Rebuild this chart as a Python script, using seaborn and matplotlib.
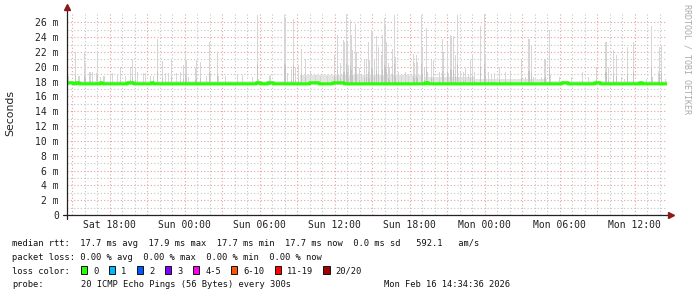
import numpy as np
import pandas as pd
import matplotlib
matplotlib.use("Agg")
import matplotlib.pyplot as plt
from matplotlib.patches import Rectangle
import seaborn as sns

# ---------------- data ----------------
STEP_HOURS = 5 / 60.0          # 300 s probe step
N_STEPS = 576                  # 48 h window
MEDIAN_BASE = 17.7             # ms
# (first step, last step, median ms) where the median sits slightly higher
median_bumps = [(0, 5, 17.84), (9, 11, 17.84), (32, 33, 17.84), (58, 63, 17.84),
                (81, 82, 17.84), (182, 185, 17.84), (193, 197, 17.84),
                (233, 241, 17.84), (255, 265, 17.84), (344, 346, 17.84),
                (475, 480, 17.84), (507, 511, 17.84), (550, 551, 17.84)]

# low, continuous smoke: (first step, last step, max ms)
smoke_bands = [(0, 575, 18.1), (224, 340, 18.9), (344, 390, 18.6), (391, 460, 18.35)]

# smoke spikes: step index and max RTT (ms) of that step
spike_steps = [1, 8, 11, 16, 17, 21, 22, 24, 28, 29, 32, 35, 41, 43, 48, 51, 56, 60, 62,
               65, 67, 73, 75, 80, 83, 86, 91, 94, 97, 100, 105, 108, 111, 113,
               114, 116, 123, 124, 128, 133, 136, 137, 144, 145, 152, 163, 168, 178,
               182, 183, 194, 195, 208, 209, 211, 215, 217, 219, 222, 225, 228,
               233, 238, 243, 250, 256, 257, 259, 260, 262, 265, 266, 268, 269, 270,
               272, 273, 274, 276, 277, 280, 282, 285, 287, 289, 290, 292, 293, 295,
               297, 299, 301, 302, 304, 305, 306, 308, 309, 312, 314, 315, 318, 321,
               324, 327, 332, 333, 335, 336, 340, 341, 343,
               345, 346, 349, 351, 357, 360, 361, 365, 366, 368, 369, 371, 372, 374,
               375, 377, 380, 382, 385, 387, 389, 391, 396, 400, 401, 404, 407, 410,
               415, 420, 425, 436, 440, 443, 445, 447, 455, 458,
               459, 463, 464, 472, 484, 494, 500, 508, 516, 517, 519, 524, 527, 532,
               535, 538, 543, 556, 561, 562, 567, 568, 570, 574]
spike_tops = [18.7, 22.0, 18.7, 22.0, 20.5, 19.3, 19.3, 19.3, 19.1, 22.0, 18.6, 18.7, 18.7,
              19.1, 18.9, 20.0, 18.7, 20.0, 21.1, 20.0, 19.3, 19.1, 19.1, 18.7, 18.7,
              23.8, 20.8, 19.1, 19.1, 21.1, 19.1, 19.3, 20.3, 22.0,
              20.9, 18.6, 19.8, 20.9, 20.7, 18.7, 23.4, 19.1, 22.0, 18.7, 18.7, 18.9,
              18.9, 18.6, 27.0, 18.4, 18.7, 18.9, 27.0, 26.5, 19.1, 19.7, 26.5, 19.8,
              20.3, 22.4, 21.1,
              19.3, 18.9, 18.7, 18.7, 21.6, 18.6, 24.3, 18.7, 20.5, 23.6, 23.4, 27.1,
              23.3, 20.3, 26.3, 24.3, 22.2, 25.8, 22.0, 19.8, 18.9, 20.9, 21.1, 23.4,
              20.9, 25.0, 24.8, 21.1, 24.1, 22.7, 21.6, 24.3, 26.6, 25.5, 23.3, 20.5,
              20.0, 22.4, 27.0, 21.3, 19.3, 18.7, 19.3, 18.7, 21.7, 20.5, 21.6, 20.7,
              27.0, 22.7, 19.8,
              25.2, 19.3, 20.9, 20.9, 19.3, 23.8, 22.0, 23.3, 19.1, 24.3, 24.1, 24.1,
              21.6, 27.0, 18.6, 19.3, 19.3, 19.8, 18.9, 20.9, 21.6, 19.3, 25.5, 27.1,
              21.7, 19.3, 18.9, 19.1, 20.0, 19.3, 19.3, 20.9, 18.6, 23.8, 23.0, 18.6,
              18.6, 20.9,
              21.1, 25.0, 18.9, 18.6, 18.6, 19.3, 18.6, 20.0, 23.4, 23.3, 20.0, 22.2,
              21.6, 18.6, 18.4, 22.7, 23.3, 18.4, 25.5, 18.6, 19.5, 22.7, 22.9, 18.4]

y_ticks = [0, 2, 4, 6, 8, 10, 12, 14, 16, 18, 20, 22, 24, 26]
y_tick_labels = ["0", "2 m", "4 m", "6 m", "8 m", "10 m", "12 m", "14 m", "16 m",
                 "18 m", "20 m", "22 m", "24 m", "26 m"]
x_tick_labels = ["Sat 18:00", "Sun 00:00", "Sun 06:00", "Sun 12:00",
                 "Sun 18:00", "Mon 00:00", "Mon 06:00", "Mon 12:00"]

legend_line1 = "median rtt:  17.7 ms avg  17.9 ms max  17.7 ms min  17.7 ms now  0.0 ms sd   592.1   am/s"
legend_line2 = "packet loss: 0.00 % avg  0.00 % max  0.00 % min  0.00 % now"
loss_labels = ["0", "1", "2", "3", "4-5", "6-10", "11-19", "20/20"]
loss_colors = ["#26ff00", "#00b8ff", "#0059ff", "#7e00ff", "#ff00ea", "#ff5500",
               "#ff0000", "#a10000"]
probe_text = "20 ICMP Echo Pings (56 Bytes) every 300s"
stamp_text = "Mon Feb 16 14:34:36 2026"

# ---------------- build frames ----------------
end = pd.Timestamp("2026-02-16 14:34:36")
start = end - pd.Timedelta(hours=48)
hours = np.arange(N_STEPS + 1) * STEP_HOURS
median = np.full(N_STEPS + 1, MEDIAN_BASE)
for a, b, v in median_bumps:
    median[a:b + 1] = v
med_df = pd.DataFrame({"hours": hours, "median": median})
smoke_df = pd.DataFrame({"hours": np.array(spike_steps) * STEP_HOURS,
                         "top": spike_tops})
band_df = pd.DataFrame(smoke_bands, columns=["s0", "s1", "top"])

first_tick = (pd.Timestamp("2026-02-14 15:00:00") - start).total_seconds() / 3600
major_x = [first_tick + 3 * k for k in range(16)]
minor_x = [first_tick + k for k in range(48) if (k % 3) != 0]
x_labels_full = []
li = 0
for k in range(16):
    if k % 2 == 1:
        x_labels_full.append(x_tick_labels[li]); li += 1
    else:
        x_labels_full.append("")

# ---------------- figure ----------------
sns.set_style("white")
plt.rcParams["font.family"] = ["DejaVu Sans Mono"]
W, H = 697, 297
fig = plt.figure(figsize=(W / 100, H / 100), dpi=100)
fig.patch.set_facecolor("white")
ax = fig.add_axes([67 / W, (H - 215) / H, 600 / W, 202 / H])
ax.set_xlim(0, 48)
ax.set_ylim(0, 27.26)
for s in ax.spines.values():
    s.set_visible(False)

# grid
ax.set_yticks(y_ticks)
ax.set_yticks(np.arange(1, 27, 2), minor=True)
ax.set_xticks(major_x)
ax.set_xticks(minor_x, minor=True)
dot = (0, (1, 2))
ax.grid(which="major", color="#eaa0a0", linestyle=dot, linewidth=0.8)
ax.grid(which="minor", color="#c4c4c4", linestyle=dot, linewidth=0.8)
ax.set_axisbelow(True)

# smoke
base = 17.55
ax.bar(band_df["s0"] * STEP_HOURS, band_df["top"] - base, bottom=base,
       width=(band_df["s1"] - band_df["s0"] + 1) * STEP_HOURS,
       color="#e4e4e4", linewidth=0, align="edge", zorder=2)
ax.bar(smoke_df["hours"], smoke_df["top"] - base, bottom=base, width=STEP_HOURS,
       color="#d6d6d6", linewidth=0, align="edge", zorder=2)
ax.bar(smoke_df["hours"], (smoke_df["top"] - base) * 0.3, bottom=base,
       width=STEP_HOURS, color="#c4c4c4", linewidth=0, align="edge", zorder=2)

# median
sns.lineplot(data=med_df, x="hours", y="median", ax=ax, color="#26ff00",
             linewidth=2.2, drawstyle="steps-post", zorder=3)
ax.set_xlabel("")
ax.set_ylabel("")

# tick labels
ax.set_yticklabels(y_tick_labels)
ax.set_xticklabels(x_labels_full)
ax.tick_params(axis="y", which="major", length=0, pad=5.8, labelsize=7,
               labelcolor="#222222")
ax.tick_params(axis="x", which="major", length=2.5, width=0.7, color="#802020",
               pad=1.2, labelsize=7, labelcolor="#222222", direction="out")
ax.tick_params(which="minor", length=0)

# axis lines with arrows
ax.plot([-4 / 600, 1.004], [0, 0], transform=ax.transAxes, color="#222222",
        lw=0.9, clip_on=False, zorder=4)
ax.plot([0, 0], [-4 / 202, 1.02], transform=ax.transAxes, color="#222222",
        lw=0.9, clip_on=False, zorder=4)
ax.plot([1.006], [0], transform=ax.transAxes, marker=">", color="#8b1a1a",
        markersize=4, clip_on=False, zorder=5)
ax.plot([0], [1.03], transform=ax.transAxes, marker="^", color="#8b1a1a",
        markersize=4, clip_on=False, zorder=5)

# side texts
fig.text(10 / W, 1 - 113.5 / H, "Seconds", rotation=90, ha="center", va="center",
         fontsize=7.8, family="DejaVu Sans", color="#222222")
fig.text(687 / W, 1 - 4 / H, "RRDTOOL / TOBI OETIKER", rotation=270, ha="center",
         va="top", fontsize=6.0, color="#aaaaaa")

# legend
fs = 6.35
def ftxt(x, y, s, **kw):
    fig.text(x / W, 1 - y / H, s, fontsize=fs, color="#111111", va="baseline",
             ha="left", **kw)

ftxt(12, 245.5, legend_line1)
ftxt(12, 259.5, legend_line2)
ftxt(12, 273.5, "loss color:")
box_x = [81, 109, 137, 165, 193, 231, 274.7, 323.3]
for bx, lab, col in zip(box_x, loss_labels, loss_colors):
    fig.add_artist(Rectangle((bx / W, 1 - 273.7 / H), 6.3 / W, 8 / H,
                             transform=fig.transFigure, facecolor=col,
                             edgecolor="#111111", linewidth=0.7))
    ftxt(bx + 12.3, 273.5, lab)
ftxt(12, 287.3, "probe:")
ftxt(80.7, 287.3, probe_text)
ftxt(384, 287.3, stamp_text)

fig.savefig("out.png", dpi=100, facecolor="white")
